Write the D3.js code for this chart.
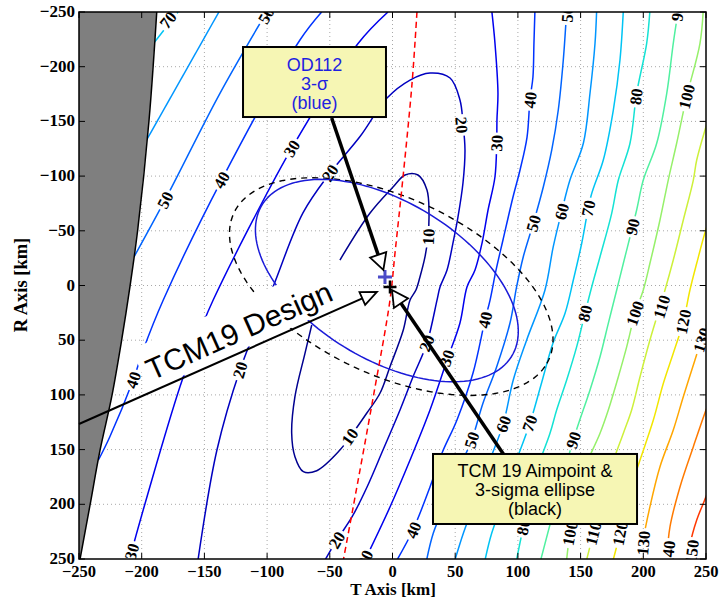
<!DOCTYPE html>
<html>
<head>
<meta charset="utf-8">
<script src="https://cdn.jsdelivr.net/npm/d3@7"></script>
<style>
  body { margin: 0; background: #fff; }
  svg text { font-family: "Liberation Serif", "Times New Roman", serif; }
</style>
</head>
<body>
<div id="chart"></div>
<script>
'use strict';

// ---- data: T, R in km ----
var ticks = [-250, -200, -150, -100, -50, 0, 50, 100, 150, 200, 250];

var c10 = [[-41.9,-23.3],[-17.9,-66.3],[0.4,-90.0],[10.0,-101.0],[20.3,-101.0],[27.5,-87.3],[29.1,-66.3],[28.3,-44.3],[25.9,-26.1],[21.9,-7.8],[18.7,4.1],[14.0,13.3],[8.6,40.7],[-2.0,74.2],[-10.0,98.5],[-20.6,116.8],[-33.9,138.5],[-41.9,150.4],[-60.4,169.3],[-71.1,170.2],[-77.8,156.5],[-80.4,135.1],[-77.8,101.6],[-69.8,62.0],[-64.4,36.1]];
var c20 = [[-155.1,250.9],[-140.0,150.4],[-121.6,77.2],[-95.3,1.4],[-71.4,-66.3],[-49.8,-102.8],[-25.9,-136.2],[-4.6,-171.1],[14.0,-187.8],[29.9,-194.2],[45.9,-189.7],[53.8,-169.6],[56.2,-148.6],[57.8,-123.9],[56.2,-93.7],[52.2,-62.6],[48.2,-38.8],[43.5,-14.2],[37.9,1.4],[35.5,13.3],[27.5,52.6],[16.3,83.6],[6.0,113.8],[-7.6,150.4],[-20.3,184.2],[-32.3,211.6],[-44.3,232.6],[-53.8,250.9]];
var c30L = [[-3.6,-250],[-27.3,-221.4],[-80.4,-125.4],[-111.2,-59.9],[-143.0,13.3],[-151.0,34.6],[-169.5,92.5],[-208.0,243.3],[-209.3,250]];
var c30R = [[79.1,-251.8],[81.7,-221.7],[84.1,-176.0],[83.3,-151.4],[83.1,-130.3],[81.7,-99.2],[76.2,-69.0],[71.4,-38.8],[65.8,-14.2],[59.4,1.4],[53.8,34.3],[43.5,68.1],[29.9,113.8],[14.0,159.5],[-2.0,202.5],[-21.9,250.9]];
var c40L = [[-56.5,-250],[-73.8,-224.4],[-136.3,-96.4],[-182.8,13.3],[-198.8,59.0],[-206.8,86.4],[-225.4,138.2],[-234.5,159.5]];
var c40R = [[113.6,-251.8],[112.8,-221.7],[112.0,-190.6],[109.6,-169.6],[107.3,-135.7],[101.7,-105.6],[96.1,-80.9],[88.1,-41.6],[82.6,-14.2],[77.8,13.3],[73.8,31.4],[64.2,80.0],[51.4,122.9],[39.5,153.1],[29.9,184.2],[16.3,223.5],[3.6,250.9]];
var c50L = [[-100.3,-250],[-137.6,-175.7],[-181.4,-78.2],[-206.0,-26.4]];
var c50R = [[138.9,-251.8],[136.2,-206.1],[132.2,-160.4],[127.0,-123.9],[120.3,-90.3],[112.3,-56.9],[104.3,-26.3],[99.0,1.1],[93.7,34.3],[83.1,74.2],[72.2,107.4],[63.2,141.2],[53.8,165.6],[43.2,196.1],[32.5,226.5],[27.3,250.5]];
var c60L = [[-138.4,-250],[-195.7,-133.9]];
var c60R = [[162.8,-251.8],[161.5,-221.4],[157.5,-175.7],[152.2,-130.0],[141.5,-96.4],[134.9,-67.5],[128.2,-35.5],[121.6,4.1],[107.0,49.8],[96.3,86.4],[88.4,126.0],[77.8,159.3],[67.1,193.1],[56.5,226.5],[49.8,250.9]];
var c70L = [[-171.0,-250],[-189.7,-222.6]];
var c70R = [[184.1,-251.8],[181.4,-206.1],[176.1,-160.4],[168.1,-114.7],[158.3,-81.8],[150.9,-38.6],[144.2,-5.0],[137.6,25.4],[128.0,52.6],[118.4,91.0],[109.6,126.0],[99.0,159.5],[89.7,193.1],[79.1,226.5],[73.8,250.9]];
var c80 = [[205.3,-251.8],[202.7,-221.4],[194.7,-175.7],[189.4,-130.0],[180.1,-96.4],[174.8,-66.0],[165.5,-26.3],[158.9,1.1],[153.5,25.4],[146.9,55.9],[138.9,86.4],[130.9,113.8],[125.6,135.1],[112.3,177.8],[104.3,220.5],[99.0,250.3]];
var c90 = [[227.9,-251.8],[223.9,-221.4],[218.7,-175.7],[210.7,-130.0],[200.0,-96.4],[194.7,-69.0],[184.1,-20.3],[178.8,4.1],[172.1,34.6],[165.5,65.1],[157.5,95.5],[144.2,141.2],[118.4,250.0]];
var c100 = [[247.8,-251.8],[245.2,-221.4],[234.6,-172.6],[226.6,-130.0],[219.9,-96.4],[213.3,-59.9],[205.3,-20.3],[200.0,4.1],[193.4,25.4],[186.8,55.9],[180.1,83.4],[172.1,113.8],[165.5,135.1],[149.5,177.8],[141.5,226.5],[138.9,250.3]];
var c110 = [[251.6,-151.4],[242.6,-114.7],[239.9,-96.4],[231.9,-59.9],[223.9,-23.3],[217.3,4.1],[205.3,49.8],[197.4,83.4],[190.7,113.8],[184.1,135.1],[170.8,177.8],[160.1,226.5],[154.9,250.3]];
var c120 = [[254.8,-67.2],[249.8,-50.7],[242.6,-20.3],[237.2,4.1],[231.9,33.1],[223.9,62.0],[216.0,89.4],[208.0,123.0],[197.4,159.5],[186.8,196.1],[181.4,226.5],[176.1,250.3]];
var c130 = [[254.8,24.2],[249.8,37.7],[241.2,68.1],[231.9,101.6],[223.9,132.1],[213.3,165.6],[205.3,202.2],[200.0,232.6],[198.7,250.3]];
var c140 = [[254.8,100.1],[250.0,113.8],[239.9,147.3],[229.3,183.9],[221.3,220.5],[218.7,250.3]];
var c150 = [[254.8,177.8],[250.0,193.1],[242.6,214.4],[237.2,237.2],[235.9,250.3]];

var contourLevels = [10, 20, 30, 30, 40, 40, 50, 50, 60, 60, 70, 70, 80, 90, 100, 110, 120, 130, 140, 150];
var contourPaths  = [c10, c20, c30L, c30R, c40L, c40R, c50L, c50R, c60L, c60R, c70L, c70R, c80, c90, c100, c110, c120, c130, c140, c150];

// contour labels: [level, T, R]
var contourLabels = [
  [10, 28.6, -44.6], [10, -34.0, 138.2],
  [20, -49.8, -102.8], [20, 55.2, -146.7], [20, 27.3, 52.8], [20, -121.6, 77.2], [20, -44.5, 232.6],
  [30, -80.4, -125.4], [30, 83.1, -130.0], [30, 43.2, 66.3], [30, -208.0, 243.3], [30, -21.9, 249.5],
  [40, -136.3, -96.4], [40, -206.8, 86.4], [40, 109.7, -169.6], [40, 73.8, 31.5], [40, 16.6, 223.5],
  [50, -181.4, -78.2], [50, -100.8, -247], [50, 112.3, -56.9], [50, 63.2, 141.2], [50, 139.3, -248],
  [60, 134.9, -67.5], [60, 88.4, 126.6],
  [70, -179.0, -242.7], [70, 156.1, -70.6], [70, 109.3, 126.0],
  [80, 194.2, -172.6], [80, 153.5, 25.4], [80, 104.3, 220.7],
  [90, 191.4, -53.7], [90, 144.2, 141.2], [90, 227.5, -249],
  [100, 234.6, -172.6], [100, 193.4, 25.4], [100, 141.5, 226.5],
  [110, 214.7, 19.4], [110, 160.1, 226.5],
  [120, 231.9, 33.1], [120, 181.4, 226.5],
  [130, 246.6, 49.8], [130, 200.0, 235.4],
  [140, 219.9, 244.5],
  [150, 238.6, 243.6]
];

// shaded region edge (left of it is shaded)
var shadeEdge = [[-188.0,-250],[-194.2,-150.4],[-203.2,-50.7],[-209.3,0.5],[-216.0,50],[-223.9,101.6],[-233.3,151.0],[-241.3,201.3],[-249.2,250.3]];
var redLine = [[19.5,-250],[15.6,-185],[8.4,-99.2],[2.0,-29.7],[-2.0,13.3],[-15.3,101.6],[-31.3,202.2],[-39.2,250.9]];

// 3-sigma ellipses: [centre T, centre R, semi-major, semi-minor, tilt deg]
var od112Ellipse = [-4.5, -4.5, 121.6, 69.0, 38.0];
var tcmEllipse   = [-1.0, 1.0, 142.7, 78.6, 30.8];
var od112Mark = [-6.0, -7.8];
var tcmMark   = [-2.0, 1.4];

// annotations
var designArrow = [[-250, 126.6], [-12.4, 5.9]];
var od112Arrow  = [[-48.5, -153.1], [-7.3, -14.2]];
var aimArrow    = [[88.4, 154.0], [-0.4, 4.1]];
var od112Box = [[-119.2, -218.0], [-5.2, -154.0]];
var aimBox   = [[32.3, 154.0], [195.0, 218.0]];
var od112Text = ['OD112', '3-\u03c3', '(blue)'];
var aimText   = ['TCM 19 Aimpoint &', '3-sigma ellipse', '(black)'];

// ---- styles ----
var levelColor = d3.scaleOrdinal()
  .domain([10, 20, 30, 40, 50, 60, 70, 80, 90, 100, 110, 120, 130, 140, 150])
  .range(['#000090', '#0000c0', '#0000ee', '#0033ff', '#0064ff', '#0096ff', '#00c4f4', '#14e2d4',
          '#50f0a0', '#96f06a', '#cdf03a', '#f2e600', '#ffa600', '#ff7a00', '#ff3800']);
var sansFont = '"Liberation Sans", Arial, Helvetica, sans-serif';

var svgWidth = 720, svgHeight = 600;
var margin = {left: 79, top: 12, right: 14, bottom: 41};
var width = svgWidth - margin.left - margin.right,
    height = svgHeight - margin.top - margin.bottom;

var x = d3.scaleLinear().domain([-250, 250]).range([margin.left, margin.left + width]);
var y = d3.scaleLinear().domain([-250, 250]).range([margin.top, margin.top + height]);

var svg = d3.select('#chart').append('svg')
  .attr('width', svgWidth)
  .attr('height', svgHeight);

var defs = svg.append('defs');
defs.append('clipPath').attr('id', 'plotclip')
  .append('rect')
  .attr('x', margin.left).attr('y', margin.top)
  .attr('width', width).attr('height', height);

var line = d3.line()
  .x(function(d) { return x(d[0]); })
  .y(function(d) { return y(d[1]); })
  .curve(d3.curveCatmullRom.alpha(0.5));

var plot = svg.append('g').attr('clip-path', 'url(#plotclip)');

// grid
plot.append('g').selectAll('line.gx')
  .data(ticks.slice(1, -1)).enter().append('line')
  .attr('x1', function(d) { return x(d); }).attr('x2', function(d) { return x(d); })
  .attr('y1', margin.top).attr('y2', margin.top + height)
  .attr('stroke', '#a8a8a8').attr('stroke-width', 1).attr('stroke-dasharray', '1,3');
plot.append('g').selectAll('line.gy')
  .data(ticks.slice(1, -1)).enter().append('line')
  .attr('y1', function(d) { return y(d); }).attr('y2', function(d) { return y(d); })
  .attr('x1', margin.left).attr('x2', margin.left + width)
  .attr('stroke', '#a8a8a8').attr('stroke-width', 1).attr('stroke-dasharray', '1,3');

// label placement along the contour
var labelFont = 16.5;
function segDist(px, py, ax, ay, bx, by) {
  var dx = bx - ax, dy = by - ay;
  var t = ((px - ax) * dx + (py - ay) * dy) / (dx * dx + dy * dy);
  t = Math.max(0, Math.min(1, t));
  var qx = ax + t * dx - px, qy = ay + t * dy - py;
  return Math.sqrt(qx * qx + qy * qy);
}
function labelAngle(lv, px, py) {
  var best = 1e9, ang = 0;
  contourPaths.forEach(function(p, i) {
    if (contourLevels[i] !== lv) return;
    for (var k = 0; k < p.length - 1; k++) {
      var ax = x(p[k][0]), ay = y(p[k][1]), bx = x(p[k + 1][0]), by = y(p[k + 1][1]);
      var d = segDist(px, py, ax, ay, bx, by);
      if (d < best) { best = d; ang = Math.atan2(by - ay, bx - ax) * 180 / Math.PI; }
    }
  });
  if (ang > 90) ang -= 180;
  if (ang <= -90) ang += 180;
  return ang;
}
var labels = contourLabels.map(function(d) {
  var px = x(d[1]), py = y(d[2]);
  return {text: String(d[0]), px: px, py: py, angle: labelAngle(d[0], px, py),
          w: String(d[0]).length * labelFont * 0.5 + 5};
});

// mask to break contour lines under labels
var mask = defs.append('mask').attr('id', 'lblmask')
  .attr('maskUnits', 'userSpaceOnUse')
  .attr('x', 0).attr('y', 0).attr('width', svgWidth).attr('height', svgHeight);
mask.append('rect').attr('width', svgWidth).attr('height', svgHeight).attr('fill', '#fff');
mask.selectAll('rect.m').data(labels).enter().append('rect')
  .attr('x', function(d) { return -d.w / 2; }).attr('y', -7)
  .attr('width', function(d) { return d.w; }).attr('height', 14)
  .attr('fill', '#000')
  .attr('transform', function(d) { return 'translate(' + [d.px, d.py] + ') rotate(' + d.angle + ')'; });

var gContours = plot.append('g').attr('mask', 'url(#lblmask)');
gContours.selectAll('path')
  .data(contourPaths).enter().append('path')
  .attr('d', line)
  .attr('fill', 'none')
  .attr('stroke', function(d, i) { return levelColor(contourLevels[i]); })
  .attr('stroke-width', 1.5);

plot.append('g').selectAll('text')
  .data(labels).enter().append('text')
  .attr('transform', function(d) { return 'translate(' + [d.px, d.py] + ') rotate(' + d.angle + ')'; })
  .attr('text-anchor', 'middle')
  .attr('dy', '0.35em')
  .style('font-size', labelFont + 'px')
  .style('font-weight', 'bold')
  .text(function(d) { return d.text; });

// ellipses
function ellipsePoints(e) {
  var pts = [], ph = e[4] * Math.PI / 180;
  for (var i = 0; i <= 144; i++) {
    var t = i / 144 * 2 * Math.PI;
    pts.push([e[0] + e[2] * Math.cos(t) * Math.cos(ph) - e[3] * Math.sin(t) * Math.sin(ph),
              e[1] + e[2] * Math.cos(t) * Math.sin(ph) + e[3] * Math.sin(t) * Math.cos(ph)]);
  }
  return pts;
}
var straight = d3.line().x(function(d) { return x(d[0]); }).y(function(d) { return y(d[1]); });

plot.append('path')
  .attr('d', straight(ellipsePoints(tcmEllipse)))
  .attr('fill', 'none').attr('stroke', '#000').attr('stroke-width', 1.4)
  .attr('stroke-dasharray', '6,5');
plot.append('path')
  .attr('d', straight(ellipsePoints(od112Ellipse)))
  .attr('fill', 'none').attr('stroke', '#1a1ad8').attr('stroke-width', 1.5);

plot.append('path')
  .attr('d', line(redLine))
  .attr('fill', 'none').attr('stroke', '#f00').attr('stroke-width', 1.5)
  .attr('stroke-dasharray', '6,4');

// shaded region
var shadePoly = shadeEdge.concat([[-260, 260], [-260, -260]]);
plot.append('path')
  .attr('d', straight(shadePoly) + 'Z')
  .attr('fill', '#7f7f7f').attr('stroke', 'none');
plot.append('path')
  .attr('d', line(shadeEdge))
  .attr('fill', 'none').attr('stroke', '#000').attr('stroke-width', 1.5);

// markers
function plus(g, p, size, color, lw) {
  var cx = x(p[0]), cy = y(p[1]);
  g.append('path')
    .attr('d', 'M' + (cx - size / 2) + ',' + cy + 'H' + (cx + size / 2) + 'M' + cx + ',' + (cy - size / 2) + 'V' + (cy + size / 2))
    .attr('stroke', color).attr('stroke-width', lw);
}
plus(plot, od112Mark, 14, '#4b4bc8', 3);
plus(plot, tcmMark, 13, '#000', 2.5);

// axes box, ticks, labels
var axes = svg.append('g');
axes.append('rect')
  .attr('x', margin.left).attr('y', margin.top)
  .attr('width', width).attr('height', height)
  .attr('fill', 'none').attr('stroke', '#000').attr('stroke-width', 1.5);
ticks.forEach(function(v) {
  axes.append('line').attr('x1', x(v)).attr('x2', x(v)).attr('y1', margin.top + height).attr('y2', margin.top + height - 6).attr('stroke', '#000');
  axes.append('line').attr('x1', x(v)).attr('x2', x(v)).attr('y1', margin.top).attr('y2', margin.top + 6).attr('stroke', '#000');
  axes.append('line').attr('y1', y(v)).attr('y2', y(v)).attr('x1', margin.left).attr('x2', margin.left + 6).attr('stroke', '#000');
  axes.append('line').attr('y1', y(v)).attr('y2', y(v)).attr('x1', margin.left + width).attr('x2', margin.left + width - 6).attr('stroke', '#000');
});
function fmt(v) { return v < 0 ? '\u2212' + (-v) : String(v); }
axes.selectAll('text.xt').data(ticks).enter().append('text')
  .attr('x', function(d) { return x(d); }).attr('y', 577)
  .attr('text-anchor', 'middle')
  .style('font-size', '16.5px').style('font-weight', 'bold')
  .text(fmt);
axes.selectAll('text.yt').data(ticks).enter().append('text')
  .attr('x', 75).attr('y', function(d) { return y(d) + 5; })
  .attr('text-anchor', 'end')
  .style('font-size', '17px').style('font-weight', 'bold')
  .text(fmt);
axes.append('text')
  .attr('x', 393).attr('y', 595)
  .attr('text-anchor', 'middle')
  .style('font-size', '17px').style('font-weight', 'bold')
  .text('T Axis [km]');
axes.append('text')
  .attr('transform', 'translate(27,285) rotate(-90)')
  .attr('text-anchor', 'middle')
  .style('font-size', '18.5px').style('font-weight', 'bold')
  .text('R Axis [km]');

// arrows
function arrow(g, a, lw, headLen, headHalf) {
  var x0 = x(a[0][0]), y0 = y(a[0][1]), x1 = x(a[1][0]), y1 = y(a[1][1]);
  var len = Math.sqrt((x1 - x0) * (x1 - x0) + (y1 - y0) * (y1 - y0));
  var ux = (x1 - x0) / len, uy = (y1 - y0) / len;
  var bx = x1 - ux * headLen, by = y1 - uy * headLen;
  g.append('line').attr('x1', x0).attr('y1', y0).attr('x2', bx).attr('y2', by)
    .attr('stroke', '#000').attr('stroke-width', lw);
  g.append('polygon')
    .attr('points', [[x1, y1], [bx - uy * headHalf, by + ux * headHalf], [bx + uy * headHalf, by - ux * headHalf]].join(' '))
    .attr('fill', '#fff').attr('stroke', '#000').attr('stroke-width', 1.8);
}

var notes = svg.append('g');

// "TCM19 Design" text with white backing, then its arrow
var dx0 = x(designArrow[0][0]), dy0 = y(designArrow[0][1]);
var dx1 = x(designArrow[1][0]), dy1 = y(designArrow[1][1]);
var dAng = Math.atan2(dy1 - dy0, dx1 - dx0) * 180 / Math.PI;
var dAnchor = [dx0 + (dx1 - dx0) * 0.565, dy0 + (dy1 - dy0) * 0.565];
var gDesign = notes.append('g').attr('transform', 'translate(' + dAnchor + ') rotate(' + dAng + ')');
var dBg = gDesign.append('rect').attr('fill', '#fff');
var dText = gDesign.append('text')
  .attr('x', 0).attr('y', -10)
  .attr('text-anchor', 'middle')
  .style('font-family', sansFont)
  .style('font-size', '30px')
  .text('TCM19 Design');
var dW = dText.node().getComputedTextLength();
dBg.attr('x', -dW / 2 - 6).attr('y', -47).attr('width', dW + 12).attr('height', 45);
arrow(notes, designArrow, 2, 16, 7);

// callout boxes
function callout(g, box, lines, color) {
  var bx0 = x(box[0][0]), by0 = y(box[0][1]), bx1 = x(box[1][0]), by1 = y(box[1][1]);
  g.append('rect')
    .attr('x', bx0).attr('y', by0).attr('width', bx1 - bx0).attr('height', by1 - by0)
    .attr('fill', '#f6f6b4').attr('stroke', '#000').attr('stroke-width', 2);
  g.selectAll(null).data(lines).enter().append('text')
    .attr('x', (bx0 + bx1) / 2)
    .attr('y', function(d, i) { return by0 + 23.5 + i * 19; })
    .attr('text-anchor', 'middle')
    .style('font-family', sansFont)
    .style('font-size', '18px')
    .attr('fill', color)
    .text(function(d) { return d; });
}
arrow(notes, od112Arrow, 3.5, 16, 8.5);
arrow(notes, aimArrow, 3.5, 16, 8.5);
callout(notes, od112Box, od112Text, '#1f1fe0');
callout(notes, aimBox, aimText, '#000');
</script>
</body>
</html>
